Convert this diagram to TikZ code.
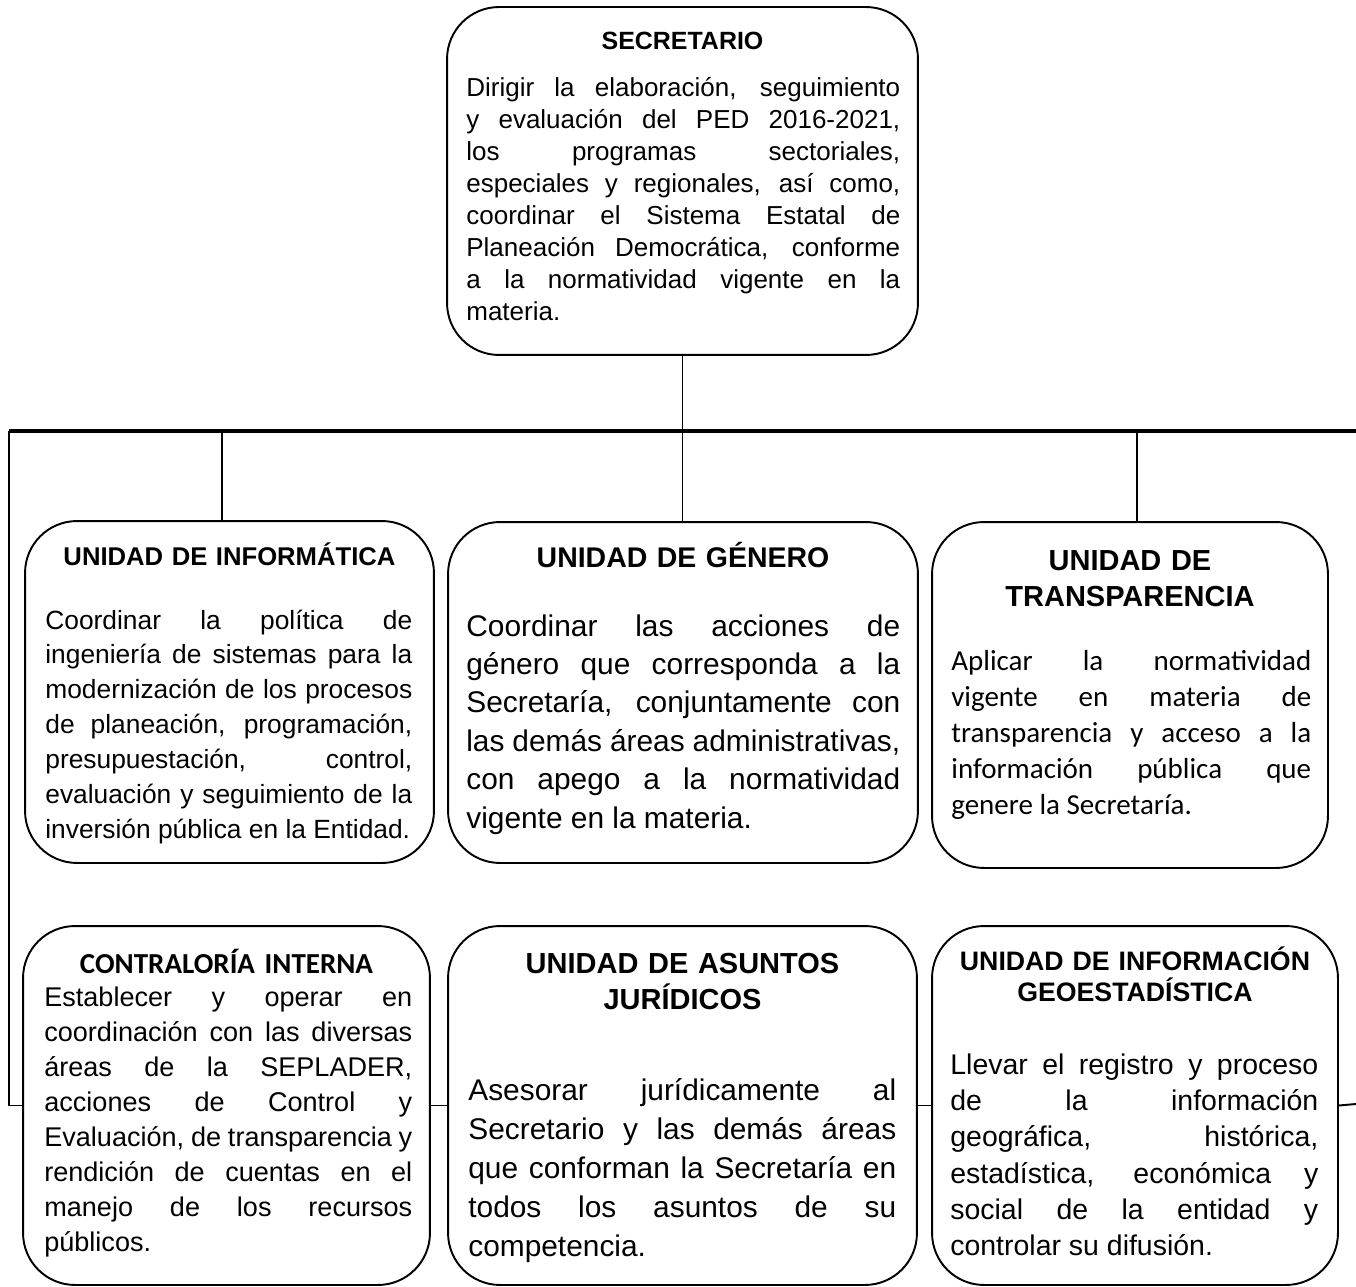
\documentclass[tikz,border=0pt]{standalone}
\usepackage{fontspec}
\setmainfont{Liberation Sans}
\newfontfamily\calibri{Carlito}
\tolerance=10000
\hbadness=10000
\hyphenpenalty=10000

\tikzset{
  unit/.style={draw, line width=1.1pt, rounded corners=1.04cm, fill=white, inner sep=0pt},
  link/.style={line width=1.1pt},
  ttl/.style={anchor=base, align=center, inner sep=0pt},
  txt/.style={anchor=base west, align=justify, inner sep=0pt},
}

\begin{document}
\begin{tikzpicture}[x=0.02cm, y=-0.02cm]
  \useasboundingbox (0,0) rectangle (1356,1287);

  \node[unit, minimum width=9.42cm, minimum height=6.96cm] (sec) at (682.5,181) {};
  \node[unit, minimum width=8.18cm, minimum height=6.84cm] (inf) at (229.5,692) {};
  \node[unit, minimum width=9.4cm, minimum height=6.82cm] (gen) at (683,692.5) {};
  \node[unit, minimum width=7.92cm, minimum height=6.92cm] (tra) at (1130,695) {};
  \node[unit, minimum width=8.14cm, minimum height=7.18cm] (con) at (226.5,1105.5) {};
  \node[unit, minimum width=9.38cm, minimum height=7.18cm] (jur) at (682.5,1105.5) {};
  \node[unit, minimum width=8.12cm, minimum height=7.18cm] (geo) at (1135,1105.5) {};

  \node[ttl, text width=9cm, font={\bfseries\fontsize{14.2}{18}\selectfont}] (sect) at (682.5,50) {SECRETARIO};
  \node[txt, text width=8.68cm, font={\fontsize{14.8}{18.2}\selectfont}] (secb) at (466,97)
    {Dirigir la elaboración, seguimiento\linebreak y evaluación del PED 2016-2021,\linebreak los programas sectoriales,\linebreak especiales y regionales, así como,\linebreak coordinar el Sistema Estatal de\linebreak Planeación Democrática, conforme\linebreak a la normatividad vigente en la\linebreak materia.};

  \node[ttl, text width=7.8cm, font={\bfseries\fontsize{14.6}{18}\selectfont}] (inft) at (229.5,565) {UNIDAD DE INFORMÁTICA};
  \node[txt, text width=7.34cm, font={\fontsize{15}{19.9}\selectfont}] (infb) at (45,629)
    {Coordinar la política de\linebreak ingeniería de sistemas para la\linebreak modernización de los procesos\linebreak de planeación, programación,\linebreak presupuestación, control,\linebreak evaluación y seguimiento de la\linebreak inversión pública en la Entidad.};

  \node[ttl, text width=9cm, font={\bfseries\fontsize{16.2}{20}\selectfont}] (gent) at (683,567) {UNIDAD DE GÉNERO};
  \node[txt, text width=8.68cm, font={\fontsize{17}{21.9}\selectfont}] (genb) at (466,636)
    {Coordinar las acciones de\linebreak género que corresponda a la\linebreak Secretaría, conjuntamente con\linebreak las demás áreas administrativas,\linebreak con apego a la normatividad\linebreak vigente en la materia.};

  \node[ttl, text width=7.5cm, font={\bfseries\fontsize{16.5}{20.5}\selectfont}] (trat) at (1130,570) {UNIDAD DE\\TRANSPARENCIA};
  \node[txt, text width=7.2cm, font={\calibri\fontsize{16.5}{20.5}\selectfont}] (trab) at (951,670)
    {Aplicar la normatividad\linebreak vigente en materia de\linebreak transparencia y acceso a la\linebreak información pública que\linebreak genere la Secretaría.};

  \node[ttl, text width=7.8cm, font={\calibri\bfseries\fontsize{16.5}{20}\selectfont}] (cont) at (226.5,973) {CONTRALORÍA INTERNA};
  \node[txt, text width=7.36cm, font={\fontsize{15.4}{20}\selectfont}] (conb) at (44,1006)
    {Establecer y operar en\linebreak coordinación con las diversas\linebreak áreas de la SEPLADER,\linebreak acciones de Control y\linebreak Evaluación, de transparencia y\linebreak rendición de cuentas en el\linebreak manejo de los recursos\linebreak públicos.};

  \node[ttl, text width=9cm, font={\bfseries\fontsize{16.5}{21}\selectfont}] (jurt) at (682.5,973) {UNIDAD DE ASUNTOS\\JURÍDICOS};
  \node[txt, text width=8.56cm, font={\fontsize{17}{22.2}\selectfont}] (jurb) at (468,1100)
    {Asesorar jurídicamente al\linebreak Secretario y las demás áreas\linebreak que conforman la Secretaría en\linebreak todos los asuntos de su\linebreak competencia.};

  \node[ttl, text width=7.8cm, font={\bfseries\fontsize{15.2}{18.2}\selectfont}] (geot) at (1135,970) {UNIDAD DE INFORMACIÓN\\GEOESTADÍSTICA};
  \node[txt, text width=7.36cm, font={\fontsize{16.2}{20.7}\selectfont}] (geob) at (950,1074)
    {Llevar el registro y proceso\linebreak de la información\linebreak geográfica, histórica,\linebreak estadística, económica y\linebreak social de la entidad y\linebreak controlar su difusión.};

  \coordinate (bl) at (9,431);
  \coordinate (br) at (1356,431);
  \coordinate (ti) at (222,431);
  \coordinate (tt) at (1137,431);
  \coordinate (er) at (1356,1104);

  \draw[line width=0.6pt] (sec.south) -- (sec.south |- gen.north);
  \draw[line width=2.4pt] (bl) -- (br);
  \draw[link] (ti) -- (ti |- inf.north);
  \draw[link] (tt) -- (tt |- tra.north);
  \draw[link] (bl) |- (con.west);
  \draw[link] (con.east) -- (jur.west);
  \draw[link] (jur.east) -- (geo.west);
  \draw[link] (geo.east) -- (er);
\end{tikzpicture}
\end{document}
